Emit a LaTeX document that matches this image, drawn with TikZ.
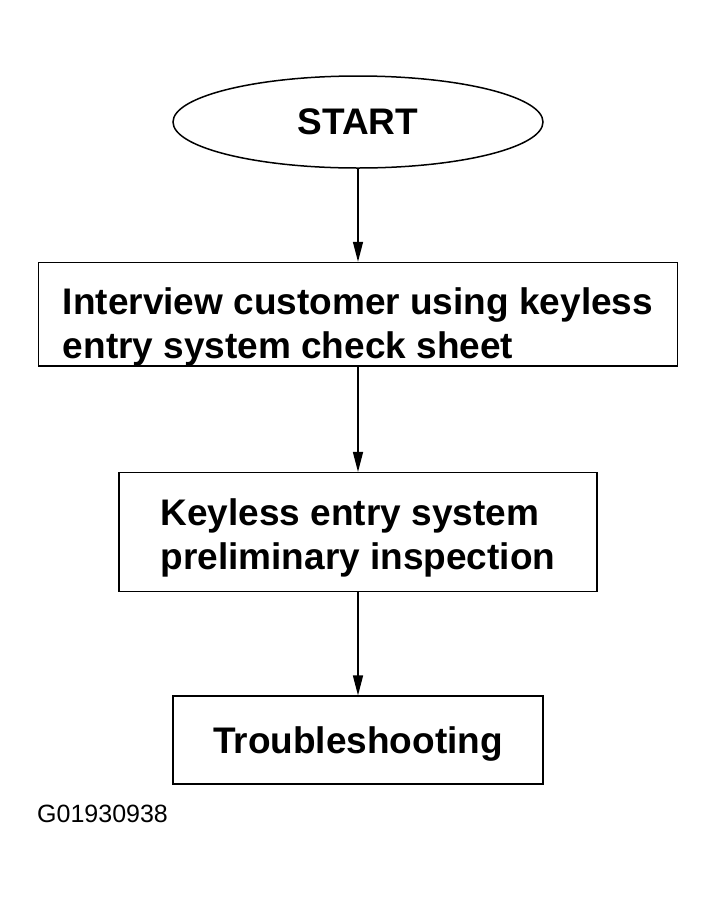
\documentclass[tikz,border=0pt]{standalone}
\usepackage{fontspec}
\setmainfont{Liberation Sans}
\usetikzlibrary{shapes.geometric, arrows.meta, positioning}

\begin{document}
\begin{tikzpicture}[x=1pt, y=1pt, node distance=93pt and 0pt,
  box/.style={rectangle, draw, line width=1.5pt, align=left, inner sep=0pt, font=\fontsize{37}{44}\selectfont\bfseries},
  term/.style={ellipse, draw, line width=1.5pt, inner sep=0pt, minimum width=370pt, minimum height=92pt, font=\fontsize{37}{44}\selectfont\bfseries},
  >={Triangle[length=20pt, width=10pt]}]
\useasboundingbox (0,0) rectangle (715,-898);
\node[term] (start) at (358,-122) {START};
\node[box, below=93pt of start, minimum width=639pt, minimum height=103pt] (interview) {\rule{0pt}{52pt}Interview customer using keyless\\entry system check sheet};
\node[box, below=105pt of interview, minimum width=478pt, minimum height=119pt] (prelim) {\rule{0pt}{38pt}Keyless entry system\\preliminary inspection};
\node[box, below=103pt of prelim, minimum width=370pt, minimum height=88pt, text depth=0pt] (trouble) {Troubleshooting};
\node[anchor=west, inner sep=0pt, font=\fontsize{25}{30}\selectfont] (figid) at (37,-814) {G01930938};
\draw[->, line width=1.5pt] (start) -- (interview);
\draw[->, line width=1.5pt] (interview) -- (prelim);
\draw[->, line width=1.5pt] (prelim) -- (trouble);
\end{tikzpicture}
\end{document}
